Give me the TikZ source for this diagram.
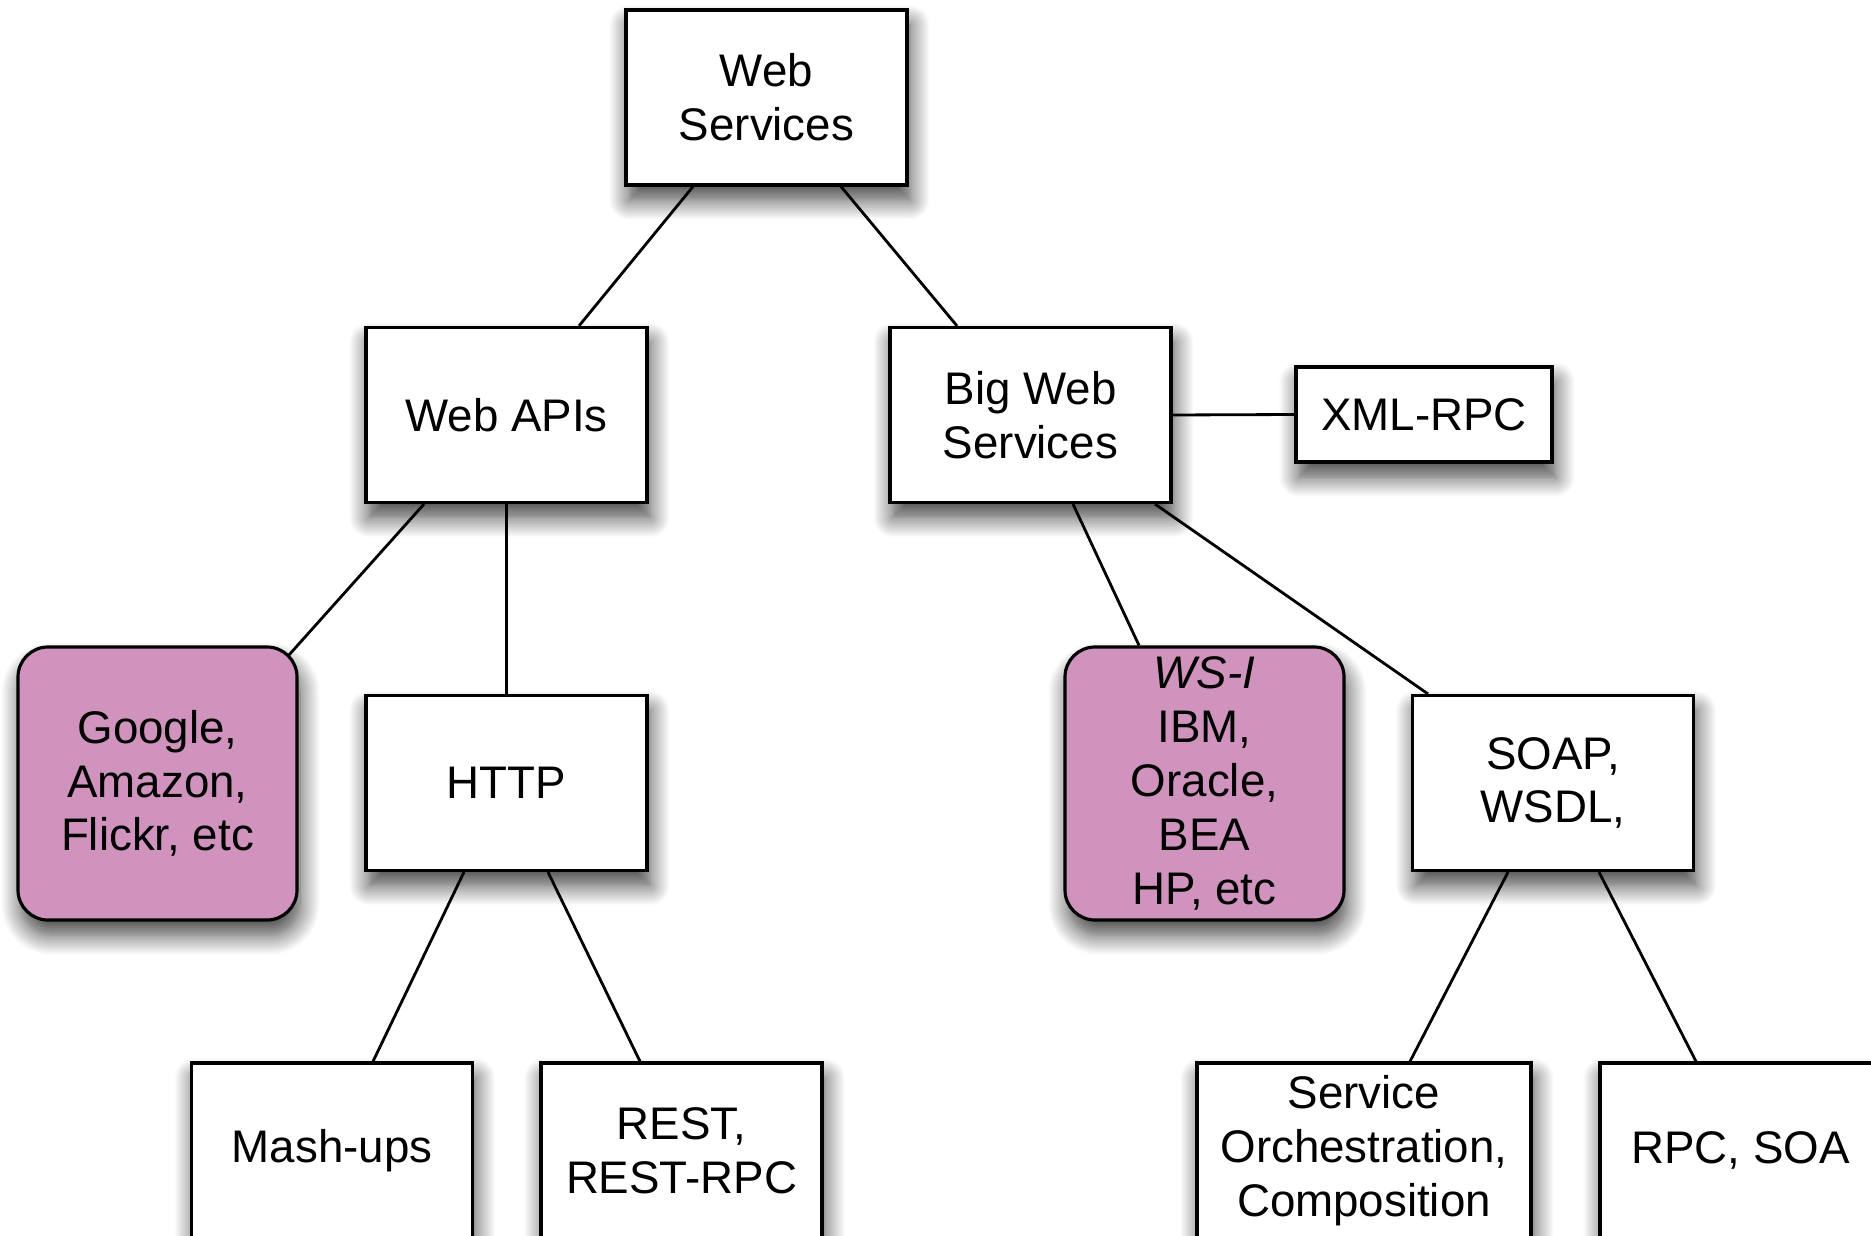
\documentclass[tikz,border=0pt]{standalone}
\usepackage{fontspec}
\setmainfont{Liberation Sans}
\usepackage{xcolor}
\usetikzlibrary{%
	shadows.blur,%
	backgrounds%
}
\definecolor{vendorpink}{RGB}{207,147,189}

\begin{document}
\begin{tikzpicture}[
	font=\fontsize{13pt}{15.3pt}\selectfont,
	box/.style={draw,line width=0.9pt,fill=white,align=center,inner sep=0pt,
		minimum width=2.81cm,minimum height=1.75cm,
		blur shadow={shadow xshift=0.3mm,shadow yshift=-1.5mm,shadow blur radius=2mm,shadow blur steps=14,shadow opacity=75}},
	vendor/.style={box,fill=vendorpink,rounded corners=0.3cm,minimum width=2.79cm,minimum height=2.73cm},
	link/.style={line width=0.8pt}
	]
	\useasboundingbox (0,0) rectangle (18.71,-12.36);
	\node[box] (ws) at (7.665,-0.975) {Web\\Services};
	\node[box] (api) at (5.065,-4.15) {Web APIs};
	\node[box] (big) at (10.305,-4.15) {Big Web\\Services};
	\node[box,minimum width=2.56cm,minimum height=0.95cm] (xml) at (14.24,-4.145) {XML-RPC};
	\node[vendor] (goo) at (1.575,-7.835) {Google,\\Amazon,\\Flickr, etc};
	\node[box] (http) at (5.065,-7.83) {HTTP};
	\node[vendor] (wsi) at (12.045,-7.835) {\textit{WS-I}\\IBM,\\Oracle,\\BEA\\HP, etc};
	\node[box] (soap) at (15.53,-7.83) {SOAP,\\WSDL,};
	\node[box] (mash) at (3.32,-11.505) {Mash-ups};
	\node[box] (rest) at (6.815,-11.505) {REST,\\REST-RPC};
	\node[box,minimum width=3.34cm] (svc) at (13.64,-11.505) {Service\\Orchestration,\\Composition};
	\node[box] (rpc) at (17.405,-11.505) {RPC, SOA};
	\begin{scope}[on background layer]
		\draw[link] ([xshift=-0.735cm]ws.south) -- ([xshift=0.725cm]api.north);
		\draw[link] ([xshift=0.745cm]ws.south) -- ([xshift=-0.735cm]big.north);
		\draw[link] (big.east) -- (xml.west);
		\draw[link] ([xshift=-0.825cm]api.south) -- ([xshift=-0.1cm,yshift=-0.1cm]goo.north east);
		\draw[link] (api.south) -- (http.north);
		\draw[link] ([xshift=-0.425cm]http.south) -- ([xshift=0.41cm]mash.north);
		\draw[link] ([xshift=0.415cm]http.south) -- ([xshift=-0.415cm]rest.north);
		\draw[link] ([xshift=0.425cm]big.south) -- ([xshift=-0.655cm]wsi.north);
		\draw[link] ([xshift=1.245cm]big.south) -- ([xshift=-1.25cm]soap.north);
		\draw[link] ([xshift=-0.45cm]soap.south) -- ([xshift=0.46cm]svc.north);
		\draw[link] ([xshift=0.46cm]soap.south) -- ([xshift=-0.445cm]rpc.north);
	\end{scope}
\end{tikzpicture}
\end{document}
